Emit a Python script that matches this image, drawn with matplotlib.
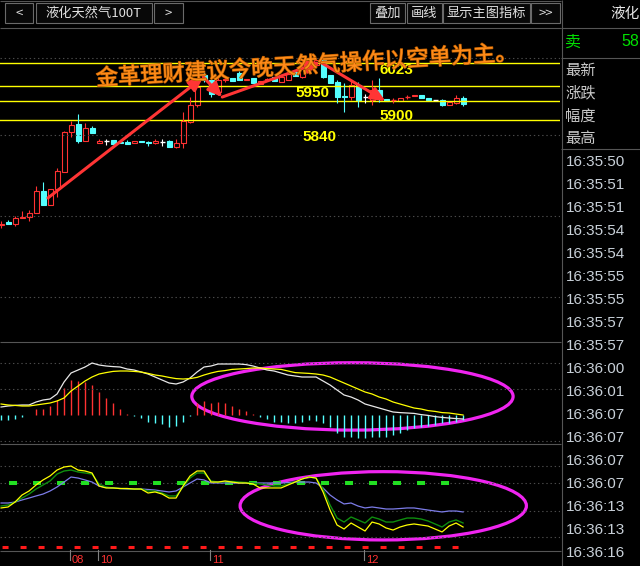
import numpy as np
import matplotlib
matplotlib.use("Agg")
import matplotlib.pyplot as plt
from matplotlib.patches import Rectangle, Ellipse
import matplotlib.patheffects as pe

plt.rcParams['font.family'] = ['Noto Sans CJK SC', 'DejaVu Sans']
plt.rcParams['lines.scale_dashes'] = False

# ---- price candles (one per bar) ----
opens = [5505, 5514, 5508, 5527, 5530, 5543, 5613, 5569, 5620, 5674,
         5802, 5828, 5773, 5815, 5767, 5773, 5777, 5770, 5770, 5767,
         5773, 5770, 5767, 5770, 5773, 5754, 5767, 5834, 5889, 5985,
         5969, 5930, 5969, 5975, 5991, 5969, 5975, 5956, 5969, 5978,
         5962, 5969, 5994, 5978, 6007, 6017, 6033, 5985, 5962, 5917,
         5914, 5953, 5914, 5905, 5937, 5908, 5904, 5901, 5913, 5917,
         5921, 5911, 5905, 5905, 5889, 5895, 5911]
highs = [5517, 5521, 5533, 5549, 5553, 5629, 5642, 5620, 5687, 5805,
         5837, 5860, 5831, 5821, 5780, 5780, 5777, 5770, 5777, 5773,
         5773, 5773, 5780, 5780, 5777, 5780, 5866, 5914, 5959, 5994,
         5975, 5978, 5981, 5975, 5997, 5972, 5975, 5965, 5975, 5978,
         5978, 5988, 5994, 6013, 6017, 6039, 6039, 5985, 5969, 5959,
         5965, 5962, 5924, 5969, 5975, 5908, 5911, 5911, 5921, 5921,
         5921, 5911, 5905, 5908, 5898, 5921, 5917]
lows = [5495, 5508, 5501, 5527, 5517, 5543, 5569, 5569, 5594, 5674,
        5786, 5767, 5773, 5799, 5767, 5761, 5764, 5767, 5764, 5767,
        5770, 5757, 5764, 5757, 5754, 5751, 5751, 5831, 5882, 5962,
        5914, 5921, 5962, 5965, 5969, 5969, 5959, 5956, 5965, 5965,
        5962, 5969, 5981, 5975, 6007, 6017, 5975, 5959, 5895, 5866,
        5905, 5882, 5895, 5889, 5898, 5901, 5895, 5901, 5908, 5917,
        5911, 5905, 5905, 5885, 5889, 5892, 5885]
closes = [5508, 5508, 5527, 5530, 5543, 5613, 5569, 5620, 5677, 5802,
          5825, 5773, 5815, 5799, 5773, 5773, 5764, 5767, 5764, 5773,
          5770, 5767, 5773, 5770, 5754, 5767, 5837, 5889, 5946, 5969,
          5924, 5969, 5972, 5965, 5969, 5972, 5959, 5965, 5972, 5965,
          5978, 5988, 5981, 6007, 6017, 6033, 5978, 5959, 5914, 5914,
          5953, 5905, 5914, 5937, 5914, 5901, 5905, 5911, 5914, 5921,
          5911, 5905, 5905, 5889, 5898, 5911, 5892]

level_prices = [6023, 5950, 5900, 5840]
level_texts = ['6023', '5950', '5900', '5840']
level_text_x = [54, 42, 54, 43]
level_text_y = [6000, 5927, 5853, 5786]
price_grid = [6040, 5793, 5533, 5274]

# zig-zag arrows drawn on the chart (bar index, price)
arrow_x = [6.7, 28.9, 31.6, 45.6, 54.9]
arrow_y = [5591, 5978, 5914, 6026, 5901]
note = '金革理财建议今晚天然气操作以空单为主。'

# ---- MACD ----
dif = [4.0, 4.5, 4.8, 5.0, 5.0, 6.5, 7.5, 8.0, 10.5, 16.5,
       21.0, 22.5, 24.0, 26.0, 25.0, 24.5, 24.2, 24.0, 23.0, 22.5,
       21.5, 20.5, 19.0, 17.5, 16.0, 15.5, 16.5, 18.5, 21.5, 24.0,
       24.5, 25.5, 25.5, 25.5, 25.5, 25.2, 24.5, 23.5, 22.5, 22.0,
       21.0, 20.0, 19.5, 19.0, 19.0, 19.0, 17.0, 15.0, 12.5, 10.0,
       9.0, 7.5, 5.5, 4.5, 3.5, 2.5, 1.5, 1.2, 1.0, 0.8,
       0.2, -0.2, -0.8, -1.2, -1.5, -1.8, -2.0]
dea = [5.5, 5.0, 4.8, 4.5, 4.5, 5.0, 5.5, 6.0, 7.0, 8.5,
       12.0, 14.5, 17.0, 19.0, 20.5, 21.2, 21.8, 22.0, 22.0, 21.8,
       21.5, 20.8, 20.0, 19.5, 18.8, 18.2, 18.0, 18.2, 18.8, 20.0,
       21.0, 21.8, 22.2, 22.8, 23.0, 23.2, 23.5, 23.5, 23.2, 23.0,
       22.8, 22.0, 21.2, 21.0, 20.8, 20.5, 20.0, 19.0, 17.5, 16.0,
       14.5, 13.0, 11.5, 10.5, 9.0, 8.0, 6.5, 5.5, 4.5, 3.5,
       3.0, 2.2, 1.8, 1.2, 1.0, 0.5, 0.0]
macd_bar = [-2.5, -2.5, -2.0, -1.0, 0.0, 3.0, 3.0, 4.5, 7.5, 13.5,
            17.5, 17.0, 16.5, 15.0, 11.5, 8.5, 6.0, 3.0, 0.5, -0.5,
            -1.5, -3.5, -4.0, -4.5, -6.0, -5.5, -3.5, -0.5, 6.0, 7.0,
            6.0, 6.5, 6.0, 4.5, 3.0, 2.0, 0.5, -1.0, -2.0, -3.5,
            -3.5, -4.0, -4.0, -3.5, -2.5, -3.0, -4.0, -6.0, -9.0, -11.0,
            -11.0, -11.5, -11.5, -11.0, -11.0, -11.0, -10.0, -9.0, -7.5, -6.5,
            -6.0, -5.5, -5.0, -4.0, -4.0, -3.5, -2.5]
macd_grid = [26, 13, -13]

# ---- lower oscillator (three lines) ----
osc_blue = [55.0, 55.0, 56.2, 58.8, 61.2, 63.8, 66.2, 70.0, 75.0, 81.2,
            87.5, 86.2, 83.8, 81.2, 76.2, 74.4, 73.8, 73.1, 72.5, 72.5,
            72.5, 71.9, 71.2, 70.0, 68.8, 70.0, 75.0, 80.0, 85.0, 83.8,
            80.0, 80.0, 80.0, 80.0, 80.0, 80.0, 80.0, 80.0, 80.0, 80.0,
            80.0, 80.6, 81.2, 81.2, 81.2, 80.0, 73.8, 65.0, 58.8, 53.8,
            55.0, 51.2, 48.8, 50.0, 48.8, 47.5, 47.5, 48.1, 48.8, 48.8,
            47.5, 46.2, 45.0, 43.8, 45.0, 45.0, 43.8]
osc_green = [51.2, 52.5, 56.2, 61.2, 66.2, 72.5, 77.5, 82.5, 91.2, 95.0,
             96.2, 93.8, 92.5, 91.2, 78.8, 75.0, 73.8, 73.1, 73.1, 72.5,
             72.5, 70.0, 70.0, 67.5, 63.8, 63.8, 75.0, 86.2, 92.5, 92.5,
             82.5, 81.2, 81.9, 81.9, 81.2, 80.6, 80.0, 78.8, 77.5, 76.2,
             76.2, 78.8, 81.2, 85.0, 87.5, 86.2, 72.5, 52.5, 36.2, 31.2,
             37.5, 33.8, 30.0, 37.5, 35.0, 31.2, 31.2, 33.8, 36.2, 36.2,
             35.0, 32.5, 28.8, 25.0, 31.2, 33.8, 30.0]
osc_yellow = [48.8, 50.0, 56.2, 65.0, 70.0, 77.5, 83.8, 88.8, 96.2, 100.0,
              101.2, 96.2, 95.0, 92.5, 76.2, 73.8, 73.8, 73.1, 73.1, 72.5,
              72.5, 67.5, 68.8, 66.2, 61.2, 61.2, 76.2, 88.8, 95.0, 95.0,
              81.2, 81.2, 82.5, 81.2, 80.0, 80.0, 78.8, 73.8, 73.8, 73.8,
              73.8, 77.5, 81.2, 85.0, 87.5, 86.2, 68.8, 46.2, 27.5, 22.5,
              30.0, 25.0, 20.0, 31.2, 28.8, 23.8, 21.2, 25.0, 27.5, 28.8,
              27.5, 26.2, 22.5, 18.8, 26.2, 30.0, 25.0]
osc_grid = [101.25, 80, 45, 12.5]
osc_upper = 80
osc_lower = 0

date_idx = [10, 14, 30, 52]
date_labels = ['08', '10', '11', '12']

buttons = [('<', 5, 33), ('液化天然气100T', 36, 152), ('>', 154, 183),
           ('叠加', 370, 405), ('画线', 407, 442), ('显示主图指标', 443, 530),
           ('>>', 531, 560)]
side_labels = ['最新', '涨跌', '幅度', '最高']
tick_times = ['16:35:50', '16:35:51', '16:35:51', '16:35:54', '16:35:54',
              '16:35:55', '16:35:55', '16:35:57', '16:35:57', '16:36:00',
              '16:36:01', '16:36:07', '16:36:07', '16:36:07', '16:36:07',
              '16:36:13', '16:36:13', '16:36:16']

UP = '#FF3232'
DOWN = '#54FFFF'
GRID = '#4a4a4a'
SEP = '#555555'

W, H = 640, 566
fig = plt.figure(figsize=(6.4, 5.66), dpi=100, facecolor='black')


def px_axes(x0, y0, x1, y1):
    a = fig.add_axes([x0 / W, 1 - y1 / H, (x1 - x0) / W, (y1 - y0) / H])
    a.set_facecolor('none')
    a.set_axis_off()
    return a


ui = px_axes(0, 0, W, H)
ui.set_xlim(0, W)
ui.set_ylim(H, 0)

ax = px_axes(0, 28, 560, 341)
macd_ax = px_axes(0, 342, 560, 443)
osc_ax = px_axes(0, 444, 560, 550)
for a in (ax, macd_ax, osc_ax):
    a.set_xlim(-0.15, 79.85)
ax.set_ylim(5133, 6135)
macd_ax.set_ylim(-14, 36.5)
osc_ax.set_ylim(-3.75, 128.75)

idx = np.arange(len(opens))

# main chart
for g in price_grid:
    ax.axhline(g, color=GRID, lw=0.8, ls=(0, (1, 2)))
for p in level_prices:
    ax.axhline(p, color='#FFFF00', lw=1.0)
for t, x, y in zip(level_texts, level_text_x, level_text_y):
    ax.text(x, y, t, color='#FFFF00', fontsize=11, fontweight='bold',
            family=['Liberation Sans', 'DejaVu Sans'], ha='left', va='center')

for i, o, h, l, c in zip(idx, opens, highs, lows, closes):
    col = UP if c > o else (DOWN if c < o else 'white')
    top, bot = max(o, c), min(o, c)
    ax.vlines(i, top, h, color=col, lw=0.8)
    ax.vlines(i, l, bot, color=col, lw=0.8)
    if top - bot < 3:
        ax.hlines((top + bot) / 2, i - 0.36, i + 0.36, color=col, lw=1.0)
    else:
        ax.add_patch(Rectangle((i - 0.36, bot), 0.72, top - bot,
                               facecolor=col if c < o else 'black',
                               edgecolor=col, lw=0.8))

for k in range(len(arrow_x) - 1):
    ax.annotate('', xy=(arrow_x[k + 1], arrow_y[k + 1]),
                xytext=(arrow_x[k], arrow_y[k]),
                arrowprops=dict(arrowstyle='-|>,head_length=0.7,head_width=0.32',
                                color='#FF3535', lw=2.2, shrinkA=0, shrinkB=0,
                                mutation_scale=12))

# MACD panel
hist = np.array(macd_bar)
macd_ax.vlines(idx[hist > 0], 0, hist[hist > 0], color=UP, lw=1.0)
macd_ax.vlines(idx[hist < 0], hist[hist < 0], 0, color=DOWN, lw=1.0)
for g in macd_grid:
    macd_ax.axhline(g, color=GRID, lw=0.8, ls=(0, (1, 2)))
macd_ax.plot(idx, dif, color='#E8E8E8', lw=0.9)
macd_ax.plot(idx, dea, color='#FFFF00', lw=0.9)
macd_ax.add_patch(Ellipse((50.2, 9.3), 45.9, 33.7, fill=False,
                          edgecolor='#F024F0', lw=2.3, clip_on=False))

# oscillator panel
for g in osc_grid:
    osc_ax.axhline(g, color=GRID, lw=0.8, ls=(0, (1, 2)))
osc_ax.plot([idx[0], idx[-1]], [osc_upper, osc_upper], color='#22E022',
            lw=2.9, ls=(11.5, (5.76, 11.52)))
osc_ax.plot([idx[0], idx[-1]], [osc_lower, osc_lower], color='#FF1A1A',
            lw=2.2, ls=(12.2, (4.32, 8.64)), clip_on=False)
osc_ax.plot(idx, osc_blue, color='#7C7CE8', lw=0.9)
osc_ax.plot(idx, osc_green, color='#0E8E0E', lw=1.0)
osc_ax.plot(idx, osc_yellow, color='#FFFF00', lw=0.9)
osc_ax.add_patch(Ellipse((54.6, 51.5), 40.9, 85.4, fill=False,
                         edgecolor='#F024F0', lw=2.3, clip_on=False))

# date ticks under the lower panel
for d, lab in zip(date_idx, date_labels):
    osc_ax.plot([d - 0.14, d - 0.14], [-3.75, -16.5], color='#808080',
                lw=0.8, clip_on=False)
    osc_ax.text(d + 0.15, -9.5, lab, color=UP, fontsize=8,
                family=['Liberation Sans', 'DejaVu Sans'],
                ha='left', va='top', clip_on=False)

# frame lines
ui.hlines([0.5, 27.5, 341.5, 443.5, 550.5], 0, 561, color=SEP, lw=0.8)
ui.hlines([27.5, 57.5, 148.5], 561, W, color=SEP, lw=0.8)
ui.vlines(561.5, 0, H, color=SEP, lw=0.8)

# toolbar
for lab, x0, x1 in buttons:
    ui.add_patch(Rectangle((x0, 3), x1 - x0, 20, facecolor='#080808',
                           edgecolor='#6a6a6a', lw=0.8))
    ui.text((x0 + x1) / 2, 13.5, lab, color='#E0E0E0', fontsize=9.5,
            ha='center', va='center')

# quote side panel (only the visible part of the header fits)
ui.text(610, 14, '液化', color='#E8E8E8', fontsize=10.5, ha='left', va='center')
ui.text(565, 42, '卖', color='#00E000', fontsize=11.5, ha='left', va='center')
ui.text(621, 42, '58', color='#00E000', fontsize=11.5,
        family=['Liberation Sans', 'DejaVu Sans'], ha='left', va='center')
for k, lab in enumerate(side_labels):
    ui.text(565, 70 + 23 * k, lab, color='#C8C8C8', fontsize=11,
            ha='left', va='center')
for k, t in enumerate(tick_times):
    ui.text(566, 162 + 23 * k, t, color='#C8D0D8', fontsize=11,
            family=['Liberation Sans', 'DejaVu Sans'], ha='left', va='center')

fig.text(307 / W, 1 - 66 / H, note, color='#FF8C1A', fontsize=16,
         rotation=3.5, ha='center', va='center', rotation_mode='anchor',
         path_effects=[pe.withStroke(linewidth=1.0, foreground='#B85C00')])

fig.savefig('out.png', dpi=100, facecolor='black')
